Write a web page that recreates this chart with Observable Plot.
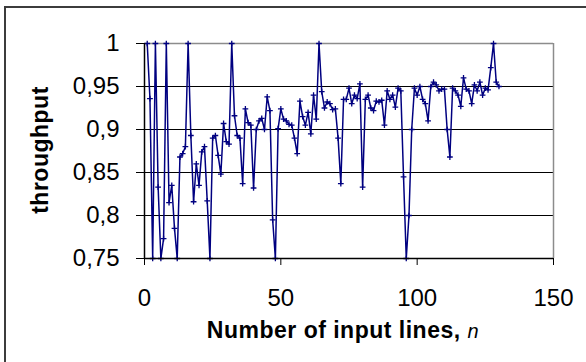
<!DOCTYPE html>
<html><head><meta charset="utf-8">
<script src="https://cdn.jsdelivr.net/npm/d3@7"></script>
<script src="https://cdn.jsdelivr.net/npm/@observablehq/plot@0.6"></script>
<style>
html,body{margin:0;padding:0;background:#fff;width:586px;height:362px;overflow:hidden}
#wrap{position:relative;width:586px;height:362px;overflow:hidden}
#border{position:absolute;left:4px;top:6px;width:700px;height:500px;border:2px solid #3c3c3c;box-sizing:border-box}
#wrap svg{position:absolute;left:0;top:0}
</style></head><body><div id="wrap"><div id="border"></div></div>
<script>
const inputLines = [1,2,3,4,5,6,7,8,9,10,11,12,13,14,15,16,17,18,19,20,21,22,23,24,25,26,27,28,29,30,
31,32,33,34,35,36,37,38,39,40,41,42,43,44,45,46,47,48,49,50,51,52,53,54,55,56,57,58,59,60,
61,62,63,64,65,66,67,68,69,70,71,72,73,74,75,76,77,78,79,80,81,82,83,84,85,86,87,88,89,90,
91,92,93,94,95,96,97,98,99,100,101,102,103,104,105,106,107,108,109,110,111,112,113,114,115,116,117,118,119,120,
121,122,123,124,125,126,127,128,129,130];
const throughput = [1.0,0.936,0.75,1.0,0.833,0.75,0.773,1.0,0.815,0.835,0.785,0.75,0.868,0.872,0.88,1.0,0.893,0.816,0.86,0.835,
0.874,0.88,0.817,0.75,0.89,0.893,0.87,0.848,0.907,0.886,0.883,1.0,0.916,0.893,0.89,0.837,0.924,0.908,0.905,0.832,
0.9,0.91,0.913,0.9,0.938,0.922,0.795,0.75,0.901,0.924,0.912,0.91,0.906,0.905,0.89,0.872,0.933,0.915,0.905,0.92,
0.895,0.94,0.912,1.0,0.944,0.925,0.932,0.93,0.923,0.924,0.89,0.837,0.935,0.935,0.948,0.93,0.94,0.936,0.953,0.833,
0.935,0.94,0.925,0.922,0.933,0.932,0.934,0.905,0.945,0.935,0.94,0.926,0.948,0.945,0.845,0.75,0.8,0.9,0.948,0.94,
0.95,0.935,0.93,0.91,0.95,0.955,0.952,0.945,0.947,0.947,0.9,0.868,0.948,0.945,0.94,0.927,0.96,0.947,0.945,0.93,
0.952,0.945,0.955,0.94,0.948,0.946,0.972,1.0,0.955,0.95];
const xTicks = [0, 50, 100, 150];
const yTicks = [0.75, 0.8, 0.85, 0.9, 0.95, 1];
const gridLines = [0.8, 0.85, 0.9, 0.95];
const xTitle = "Number of input lines, ";
const xTitleVar = "n";
const yTitle = "throughput";

const data = inputLines.map((n, i) => ({n, t: throughput[i]}));
const navy = "#000080";

const plot = Plot.plot({
  width: 586, height: 362,
  marginLeft: 144, marginRight: 33, marginTop: 43, marginBottom: 104,
  style: {background: "transparent", fontFamily: "'Liberation Sans', Arial, sans-serif", fontSize: "24px", color: "black", overflow: "visible"},
  x: {domain: [0, 150]},
  y: {domain: [0.75, 1]},
  marks: [
    Plot.ruleY(gridLines, {stroke: "black", strokeWidth: 1}),
    Plot.ruleY([1], {stroke: "#8c8c8c", strokeWidth: 1.5}),
    Plot.ruleX([150], {stroke: "#8c8c8c", strokeWidth: 1.5}),
    Plot.lineY(data, {x: "n", y: "t", stroke: navy, strokeWidth: 1.5}),
    Plot.dot(data, {x: "n", y: "t", symbol: "plus", r: 2, stroke: navy, strokeWidth: 1.3}),
    Plot.ruleX([0], {stroke: "black", strokeWidth: 1.5}),
    Plot.ruleY([0.75], {stroke: "black", strokeWidth: 1.5}),
    Plot.axisY({ticks: yTicks, tickSize: 8, tickPadding: 17, tickFormat: d => String(d).replace(".", ","), label: null, fontSize: 24}),
    Plot.axisX({ticks: xTicks, tickSize: 7, tickPadding: 23, label: null, fontSize: 24})
  ]
});
document.getElementById("wrap").appendChild(plot);

const svg = d3.select(plot);
const xt = svg.append("text")
  .attr("x", 343).attr("y", 338)
  .attr("text-anchor", "middle")
  .style("font-family", "'Liberation Sans', Arial, sans-serif")
  .style("font-size", "23px").style("font-weight", "bold").style("letter-spacing", "0.5px");
xt.append("tspan").text(xTitle);
xt.append("tspan").style("font-weight", "normal").style("font-style", "italic").style("font-size", "20px").text(xTitleVar);

svg.append("text")
  .attr("transform", "translate(48,150) rotate(-90)")
  .attr("text-anchor", "middle")
  .style("font-family", "'Liberation Sans', Arial, sans-serif")
  .style("font-size", "23px").style("font-weight", "bold").style("letter-spacing", "0.5px")
  .text(yTitle);
</script>
</body></html>
